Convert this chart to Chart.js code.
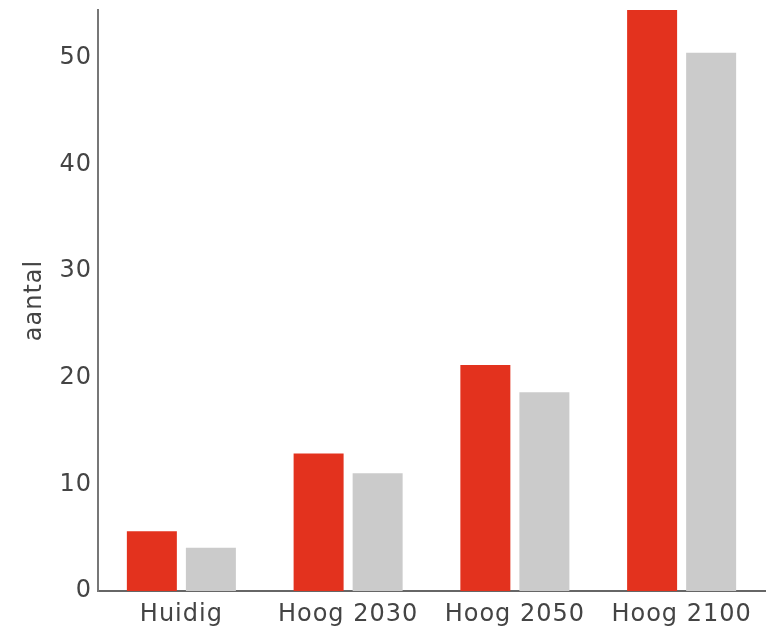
<!DOCTYPE html>
<html>
<head>
<meta charset="utf-8">
<script src="https://cdn.jsdelivr.net/npm/chart.js@4"></script>
<style>
  body { margin: 0; background: #fff; }
</style>
</head>
<body>
<canvas id="chart" width="767" height="629"></canvas>
<script>
const categories = ['Huidig', 'Hoog 2030', 'Hoog 2050', 'Hoog 2100'];
const redValues = [5.6, 12.9, 21.2, 54.5];
const greyValues = [4.05, 11.05, 18.65, 50.5];
const yTicks = [0, 10, 20, 30, 40, 50];

// the reference text runs a bit wider than DejaVu, so open it up slightly
const wideText = {
  id: 'wideText',
  beforeDraw: chart => { chart.ctx.letterSpacing = '1px'; }
};

const ctx = document.getElementById('chart').getContext('2d');
new Chart(ctx, {
  type: 'bar',
  data: {
    labels: categories,
    datasets: [
      {
        label: 'rood',
        data: redValues,
        backgroundColor: '#e3321e',
        barPercentage: 0.847,
        categoryPercentage: 0.708
      },
      {
        label: 'grijs',
        data: greyValues,
        backgroundColor: '#cbcbcb',
        barPercentage: 0.847,
        categoryPercentage: 0.708
      }
    ]
  },
  options: {
    responsive: false,
    animation: false,
    devicePixelRatio: 1,
    layout: { padding: { top: 10, right: 2, left: 0, bottom: 0 } },
    plugins: {
      legend: { display: false },
      tooltip: { enabled: false }
    },
    scales: {
      x: {
        grid: { display: false, drawTicks: false },
        border: { display: true, color: '#666', width: 2 },
        ticks: {
          color: '#444',
          padding: 9,
          maxRotation: 0,
          font: { family: 'DejaVu Sans', size: 24 }
        },
        afterFit: scale => {
          scale.height = 38;
          scale.paddingLeft = 0;
          scale.paddingRight = 0;
        }
      },
      y: {
        min: 0,
        max: 54.5,
        grid: { display: false, drawTicks: false },
        border: { display: true, color: '#777', width: 2 },
        afterBuildTicks: scale => { scale.ticks = yTicks.map(v => ({ value: v })); },
        ticks: {
          color: '#444',
          padding: 6,
          font: { family: 'DejaVu Sans', size: 24 }
        },
        title: {
          display: true,
          text: 'aantal',
          color: '#444',
          padding: { top: 20, bottom: 0 },
          font: { family: 'DejaVu Sans', size: 24 }
        },
        afterFit: scale => {
          scale.width = 98;
          scale.paddingTop = 0;
          scale.paddingBottom = 0;
        }
      }
    }
  },
  plugins: [wideText]
});
</script>
</body>
</html>
